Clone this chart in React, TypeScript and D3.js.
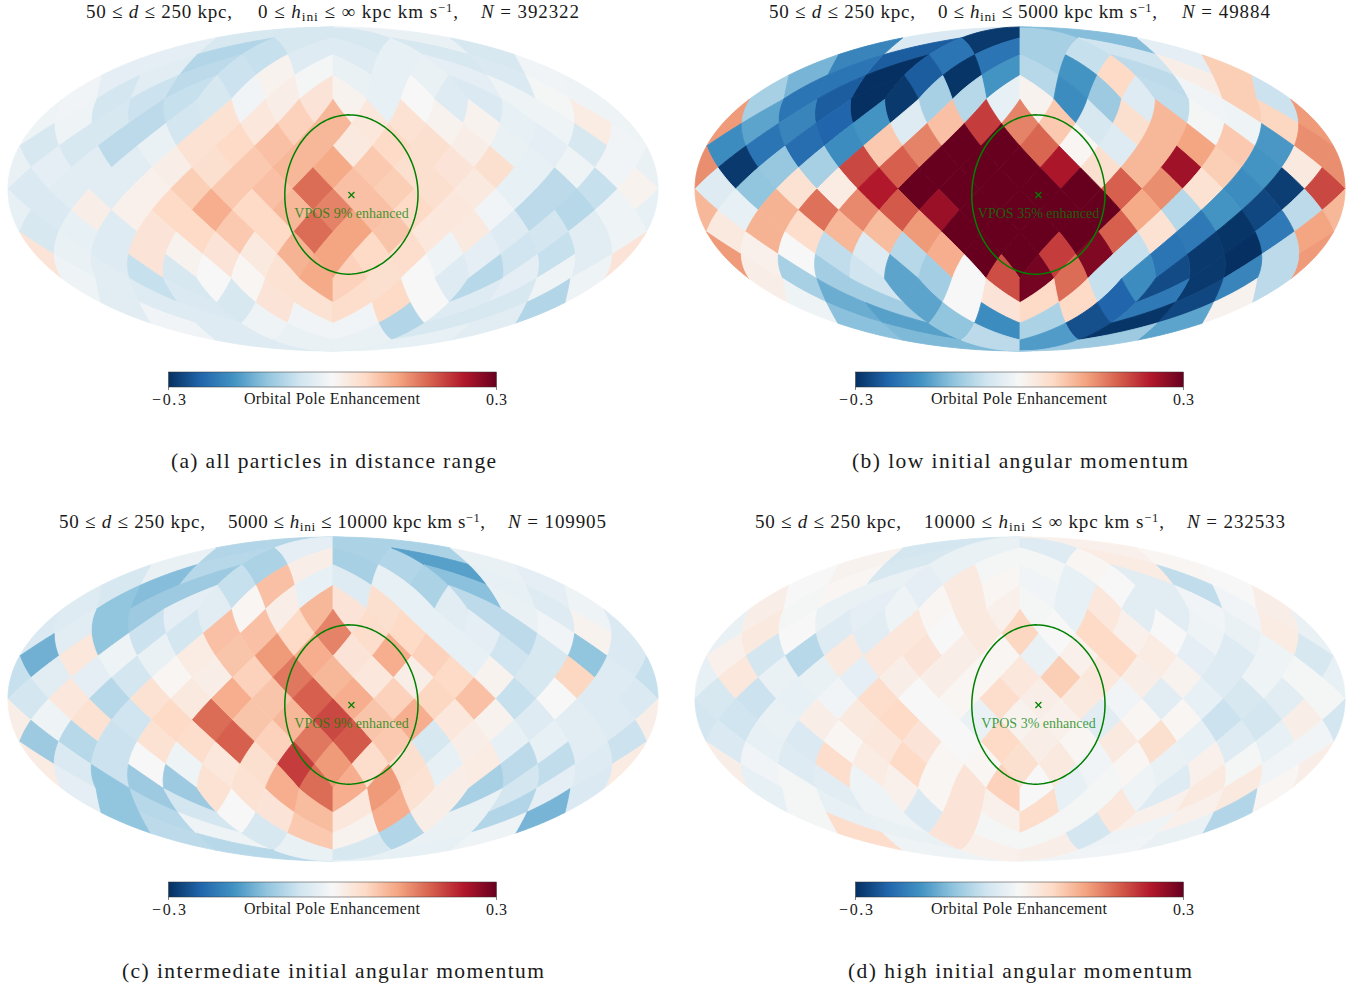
import * as d3 from "d3";

const NSIDE = 4;
const W = 1367, H = 989;

// enhancement in percent, one row per HEALPix ring (north to south), left to right on the map
const valuesA = [
  [-5, -5, -5, -2],
  [-3, -9, -7, -4, -4, -2.5, -5, -5],
  [-3, -3.5, -8, -6.5, 1, -0.5, -2, -2.5, -2, -3, -4.5, -1],
  [-1, -5.5, -6.5, -7, -5, -1, 2, 4, 1, -2.5, 0, -4, -4.5, -1.5, -0.5, -1.5],
  [-1.5, -5, -8, -5.5, 4.5, 3.5, 7, 10, 3.5, 4.5, 1, 1, -2.5, -1.5, 2.5, -1.5],
  [-5, -5, -8, -2, 4.5, 6, 9, 10, 3, 6, 5, 2, -2, -3, -5, -1],
  [-3, -3.5, -3.5, 2, 5, 8, 10, 11.5, 8, 5, 4, 5, -2.5, -1.5, -1, -2],
  [-4.5, -3.5, -3.5, 1.5, 7.5, 8, 9, 17, 9, 7.5, 5, 3, -2.5, -8, -7, 1],
  [-4.5, 2, 1.5, 6, 11, 6, 10, 15, 9, 6, 3.5, -1, -8, -8.5, -1.5, -2.5],
  [-5, -2.5, -4, 4, 6, 8, 6, 17, 12, 8.5, 3.5, 3, -4, -5.5, -3.5, -1.5],
  [-2, -4, 4, 1, 4, 3, 10.5, 12, 6, 5.5, -1.5, -3, -6, -7, -3.5, 4],
  [-1.5, -3.5, -7, -5, 0, 0.5, 4.5, 11.5, 7, 5, 0, -4, -8.5, -3, -1.5, -1.5],
  [-3.5, -4, -4.5, -5, 4, 4.5, 5.5, 6, 0, -4, -5, -9],
  [-1, -4, -1.5, -1, -1, -9, -5, -3.5],
  [-4, -2, -2, -2.5],
];

const valuesB = [
  [-4.5, -29, -10, -13],
  [-20, -25, -22, -22, -10, -7, -6, -3],
  [-14, -22, -30, -25, -29.5, -18, -8.5, -18, 6, -8, 2, 7.5],
  [-10, -22, -25, -30, -29, -10, -8.5, -2.5, 1, -19, -11, -4, -7.5, -1, 7.5, -6.5],
  [-16, -20, -24, -18, -4, 9, 21, 15, 8, -5, 5, 10, -0.5, -1.5, 6.5, 13],
  [-19, -22, -23, -19, 8, 15, 30, 30, 17.5, 0.5, -4, 10, 12, 8, -17.5, 14],
  [-29, -11.5, -10, 20, 18, 30, 30, 30, 24.5, 5, 10, 25.5, 7.5, -18, 3, 14],
  [-4, -12, 4.5, 2.5, 24, 30, 30, 30, 30, 30, 18, 14, 4.5, -19, -28.5, 20],
  [-2.5, 10.5, 16.5, 14.5, 18.5, 26, 30, 30, 30, 30, 11.5, -8.5, -18, -27.5, -8, 10],
  [3, 10.5, 5.5, 10, 9.5, 13, 30, 30, 30, 30, 18, 4.5, -21.5, -29.5, -21.5, 12],
  [1.5, 0, -7.5, -4, -8.5, 11, 30, 30, 21, 28, -7, -22, -29, -30, -8, 13],
  [2, -10, -10.5, -6, -16, -10.5, 0, 19.5, 29, 17, -7, -19, -27, -29, -20, -8],
  [-1.5, -15, -10.5, -16, 0, 4, 6, 6, -24, -21.5, -27.5, 1],
  [-12.5, -16.5, -12, -19, -9.5, -26.5, -29.5, -16],
  [-13.5, -8, -17, -11],
];

const valuesC = [
  [-9, -3, -9.5, -9.5],
  [-2, -8.5, -9.5, 2, -10, -9, -16.5, -2],
  [-5, -13, -11, -7, 9, -2.5, -4, -2.5, -9.5, -12.5, -2.5, -3],
  [-4, -12, -11, -3, -3.5, 0.5, 2, 10, 4, 5, -2.5, -3.5, -8, -2, -4, -1.5],
  [-3.5, -12, -6.5, -5.5, 9, 9, 6, 15, 5.5, 6, -2.5, -3, -8, -1, 1, -4.5],
  [-14.5, 3.5, -1.5, -2, 2.5, 8.5, 13, 11, 4, 11, 7, -2.5, -6, -5, -12, -4.5],
  [-3.5, -3, -5.5, 0.5, 2, 7, 16, 10, 3.5, 2, 6, 1, -5, 6.5, -4, -7],
  [-5.5, 3.5, -8.5, 4.5, 3, 11, 8.5, 18, 11, 7, 6.5, 9, -7, 0, -4, -4.5],
  [-1.5, 4.5, -6, 6, 17, 8.5, 10, 20, 8.5, 11, 3.5, 1, -4, -3.5, -4, 2],
  [-11, -8.5, -6.5, 4.5, 5.5, 18, 7, 16, 18.5, 8, -5, 2, -2.5, -2.5, -3.5, -6.5],
  [-4.5, -6.5, 0, -1.5, 3.5, 5, 21, 13, 5.5, 5, -2.5, 2.5, -8, -7.5, -4, 2.5],
  [-3, -12, -11, -11, 4.5, 4.5, 11, 17, 11, 13, 4.5, 2, -10, -5.5, -3, -4.5],
  [-12, -8.5, -5.5, 0, 4, 9.5, 3.5, 11, 2, -2, -9, -14],
  [-8, -1.5, -5, 8, 1, -9, -2, -1.5],
  [-8.5, -2, -5, -2.5],
];

const valuesD = [
  [-5.5, -2, -4, 1.5],
  [1, -5, -2, -0.5, -0.5, 0.5, 2.5, 0.5],
  [0, 0.5, -2, -3, 3, 0.5, -1, -2.5, 0, -3.5, -7.5, 0],
  [2, -0.5, -2, -3, -1.5, 0.5, 3, 1.5, -0.5, -2.5, 3.5, -3.5, -3.5, -1, -1, 2],
  [3, 0, -4, -3.5, 3.5, 0, 3, 6.5, 0, 6, 1.5, 0, -1.5, -2, 2.5, -2],
  [1.5, -5.5, -8.5, 3, 3.5, 4, 2, 0.5, -2, 1.5, 6, 2.5, -3, -4, -1.5, -5],
  [3.5, -2, -2, -3, 2, 2, 0.5, 3.5, 7.5, 3.5, 2, 1, -4, -1.5, -0.5, -2.5],
  [-5, -6.5, -2.5, -1, 5.5, 0, 0.5, 5.5, 2, 3, -1, -3.5, -2.5, -5, -3.5, -0.5],
  [-6, -2, 2, 3, 6, 0, -2, 1, 1.5, -3.5, 0.5, 0.5, -6.5, -5.5, 2, -5.5],
  [-4.5, -2.5, -4.5, 0.5, 3.5, 4, 0, 6, 2, 0.5, 3, 5, -2.5, -4, -2.5, -1],
  [-1, -4, 5.5, 2.5, 6, 0.5, 0.5, 5, 3, -1, 0.5, -2, 1.5, -0.5, -1, 2],
  [-2.5, -0.5, -3.5, -1.5, 1.5, 0.5, 4, 7, 0, -2.5, -0.5, -1.5, -4, 3, 3, 0.5],
  [-0.5, -2.5, -1.5, -4.5, 4, 1.5, 5.5, -0.5, 3.5, 1.5, 1.5, -9],
  [5.5, -2, 4, -0.5, -0.5, -5.5, -1.5, -2],
  [-1.5, 1.5, 2, -1],
];

const panelValues = [valuesA, valuesB, valuesC, valuesD];
const panelOffsets = [[0, 0], [687, 0], [0, 510], [687, 510]];

const titleLo = ["0", "0", "5000", "10000"];
const titleHi = ["\u221e", "5000", "10000", "\u221e"];
const titleN = ["392322", "49884", "109905", "232533"];
// left part, middle part and right part of each title line
const titleX = [
  [86, 232, 258, 458, 481, 579],
  [769, 915, 938, 1157, 1182, 1270],
  [59, 205, 228, 485, 508, 606],
  [755, 901, 924, 1164, 1187, 1285],
];
const captions = [
  "(a) all particles in distance range",
  "(b) low initial angular momentum",
  "(c) intermediate initial angular momentum",
  "(d) high initial angular momentum",
];
const captionX = [[171, 496], [852, 1188], [122, 544], [848, 1192]];
const vposPercent = [9, 35, 9, 3];

const rdbuStops = ["#053061", "#2166ac", "#4393c3", "#92c5de", "#d1e5f0", "#f7f7f7", "#fddbc7", "#f4a582", "#d6604d", "#b2182b", "#67001f"];
const color = d3.scaleLinear<string>().domain(d3.range(11).map((i) => -30 + i * 6)).range(rdbuStops).clamp(true);

const VPOS_LON = 10.2, VPOS_LAT = -2.7, VPOS_RADIUS = 36.87;
const SERIF = "'Liberation Serif', serif";
const INK = "#1a1a1a";

function mollweide(lon: number, lat: number): [number, number] {
  let t = lat;
  if (Math.abs(Math.abs(lat) - Math.PI / 2) > 1e-6) {
    for (let i = 0; i < 50; i++) {
      const d = (2 * t + Math.sin(2 * t) - Math.PI * Math.sin(lat)) / (2 + 2 * Math.cos(2 * t));
      t -= d;
      if (Math.abs(d) < 1e-9) break;
    }
  }
  return [(2 * Math.SQRT2 / Math.PI) * lon * Math.cos(t), Math.SQRT2 * Math.sin(t)];
}

const JR = [2, 2, 2, 2, 3, 3, 3, 3, 4, 4, 4, 4];
const JP = [1, 3, 5, 7, 0, 2, 4, 6, 1, 3, 5, 7];

function facePoint(x: number, y: number, f: number) {
  const jll = JR[f] * NSIDE - (x + y);
  let z: number, nr: number;
  if (jll < NSIDE) {
    nr = jll;
    z = 1 - (nr * nr) / (3 * NSIDE * NSIDE);
  } else if (jll > 3 * NSIDE) {
    nr = 4 * NSIDE - jll;
    z = (nr * nr) / (3 * NSIDE * NSIDE) - 1;
  } else {
    nr = NSIDE;
    z = ((2 * NSIDE - jll) * 2) / (3 * NSIDE);
  }
  const phi = nr < 1e-9 ? null : (Math.PI / 4) * (JP[f] * nr + x - y) / nr;
  return { phi, lat: Math.asin(z) };
}

// pixel outlines per ring, sorted by longitude
function buildRings() {
  const rows: any[][] = d3.range(15).map(() => []);
  for (let f = 0; f < 12; f++) {
    for (let ix = 0; ix < NSIDE; ix++) {
      for (let iy = 0; iy < NSIDE; iy++) {
        const ring = JR[f] * NSIDE - ix - iy - 1;
        const c = facePoint(ix + 0.5, iy + 0.5, f);
        const corners = [[ix, iy], [ix + 1, iy], [ix + 1, iy + 1], [ix, iy + 1]];
        const pts: any[] = [];
        corners.forEach((a, k) => {
          const b = corners[(k + 1) % 4];
          for (let s = 0; s < 12; s++) {
            const u = s / 12;
            pts.push(facePoint(a[0] + (b[0] - a[0]) * u, a[1] + (b[1] - a[1]) * u, f));
          }
        });
        const out: any[] = [];
        pts.forEach((p, i) => {
          if (p.phi === null) {
            out.push({ phi: pts[(i - 1 + pts.length) % pts.length].phi, lat: p.lat });
            out.push({ phi: pts[(i + 1) % pts.length].phi, lat: p.lat });
          } else out.push(p);
        });
        let cphi = c.phi as number;
        while (cphi > Math.PI + 1e-9) cphi -= 2 * Math.PI;
        while (cphi < -Math.PI + 1e-9) cphi += 2 * Math.PI;
        const shift = cphi - (c.phi as number);
        rows[ring - 1].push({ cphi, pts: out.map((p) => ({ phi: p.phi + shift, lat: p.lat })) });
      }
    }
  }
  rows.forEach((r) => r.sort((a, b) => a.cphi - b.cphi));
  return rows;
}

const rings = buildRings();

const Map = ({ values, dx, dy }: any) => {
  const R = 2 * Math.SQRT2;
  const sx = d3.scaleLinear().domain([-R, R]).range([8 + dx, 658 + dx]);
  const sy = d3.scaleLinear().domain([-R / 2, R / 2]).range([351 + dy, 27 + dy]);
  const line = d3.line();
  const toPath = (pts: any[]) => line(pts.map((p) => {
    const m = mollweide(p.phi, p.lat);
    return [sx(m[0]), sy(m[1])];
  }) as any) + "Z";
  const cells: any[] = [];
  rings.forEach((row, r) => row.forEach((px: any, i: number) => {
    const fill = color(values[r][i]);
    [-1, 0, 1].forEach((k) => {
      const pp = px.pts.map((p: any) => ({
        phi: Math.max(-Math.PI, Math.min(Math.PI, p.phi + k * 2 * Math.PI)),
        lat: p.lat,
      }));
      const e = d3.extent(pp, (p: any) => p.phi) as [number, number];
      if (e[1] - e[0] < 1e-6) return;
      cells.push(<path key={r + "-" + i + "-" + k} d={toPath(pp)} fill={fill} stroke={fill} strokeWidth={0.9} strokeLinejoin="round" />);
    });
  }));
  const circle = d3.geoCircle().center([VPOS_LON, VPOS_LAT]).radius(VPOS_RADIUS).precision(2)();
  const ring = (circle.coordinates[0] as number[][]).map((c) => ({ phi: (c[0] * Math.PI) / 180, lat: (c[1] * Math.PI) / 180 }));
  const center = mollweide((VPOS_LON * Math.PI) / 180, (VPOS_LAT * Math.PI) / 180);
  return (
    <g>
      {cells}
      <path d={toPath(ring)} fill="none" stroke="#008000" strokeWidth={1.5} />
      <path
        d={`M${sx(center[0]) - 3},${sy(center[1]) - 3}L${sx(center[0]) + 3},${sy(center[1]) + 3}M${sx(center[0]) - 3},${sy(center[1]) + 3}L${sx(center[0]) + 3},${sy(center[1]) - 3}`}
        stroke="#008000"
        strokeWidth={1.2}
      />
    </g>
  );
};

const Title = ({ i, dy }: any) => {
  const x = titleX[i];
  const common = { y: 18 + dy, fontFamily: SERIF, fontSize: 19, fill: INK, lengthAdjust: "spacing" };
  return (
    <g>
      <text {...common} x={x[0]} textLength={x[1] - x[0]}>
        50 ≤ <tspan fontStyle="italic">d</tspan> ≤ 250 kpc,
      </text>
      <text {...common} x={x[2]} textLength={x[3] - x[2]}>
        {titleLo[i]} ≤ <tspan fontStyle="italic">h</tspan>
        <tspan dy={3} fontSize={13.5}>ini</tspan>
        <tspan dy={-3}> ≤ {titleHi[i]} kpc km s</tspan>
        <tspan dy={-6} fontSize={12.5}>−1</tspan>
        <tspan dy={6}>,</tspan>
      </text>
      <text {...common} x={x[4]} textLength={x[5] - x[4]}>
        <tspan fontStyle="italic">N</tspan> = {titleN[i]}
      </text>
    </g>
  );
};

const Colorbar = ({ dx, dy }: any) => {
  const x = d3.scaleLinear().domain([-30, 30]).range([168.5 + dx, 496.5 + dx]);
  return (
    <g>
      <rect x={x(-30)} y={372 + dy} width={x(30) - x(-30)} height={15} fill="url(#rdbu)" stroke="#333" strokeWidth={0.5} />
      {[-30, 30].map((t) => (
        <line key={t} x1={x(t)} x2={x(t)} y1={387 + dy} y2={390 + dy} stroke="#333" strokeWidth={0.6} />
      ))}
      <text x={152 + dx} y={405 + dy} textLength={34} lengthAdjust="spacing" fontFamily={SERIF} fontSize={16} fill={INK}>−0.3</text>
      <text x={486 + dx} y={405 + dy} textLength={21} lengthAdjust="spacing" fontFamily={SERIF} fontSize={16} fill={INK}>0.3</text>
      <text x={244 + dx} y={403.5 + dy} textLength={176} lengthAdjust="spacing" fontFamily={SERIF} fontSize={16} fill={INK}>Orbital Pole Enhancement</text>
    </g>
  );
};

export default function App() {
  return (
    <svg width={W} height={H} style={{ position: "absolute", left: 0, top: 0 }}>
      <defs>
        <linearGradient id="rdbu">
          {rdbuStops.map((c, i) => <stop key={i} offset={`${i * 10}%`} stopColor={c} />)}
        </linearGradient>
      </defs>
      {panelValues.map((values, i) => {
        const [dx, dy] = panelOffsets[i];
        return (
          <g key={i}>
            <Title i={i} dy={dy} />
            <Map values={values} dx={dx} dy={dy} />
            <text x={351.5 + dx} y={217.5 + dy} textAnchor="middle" fontFamily={SERIF} fontSize={14} fill="#008000" fillOpacity={0.75}>
              VPOS {vposPercent[i]}% enhanced
            </text>
            <Colorbar dx={dx} dy={dy} />
            <text x={captionX[i][0]} y={467.5 + dy} textLength={captionX[i][1] - captionX[i][0]} lengthAdjust="spacing" fontFamily={SERIF} fontSize={21.5} fill={INK}>
              {captions[i]}
            </text>
          </g>
        );
      })}
    </svg>
  );
}
